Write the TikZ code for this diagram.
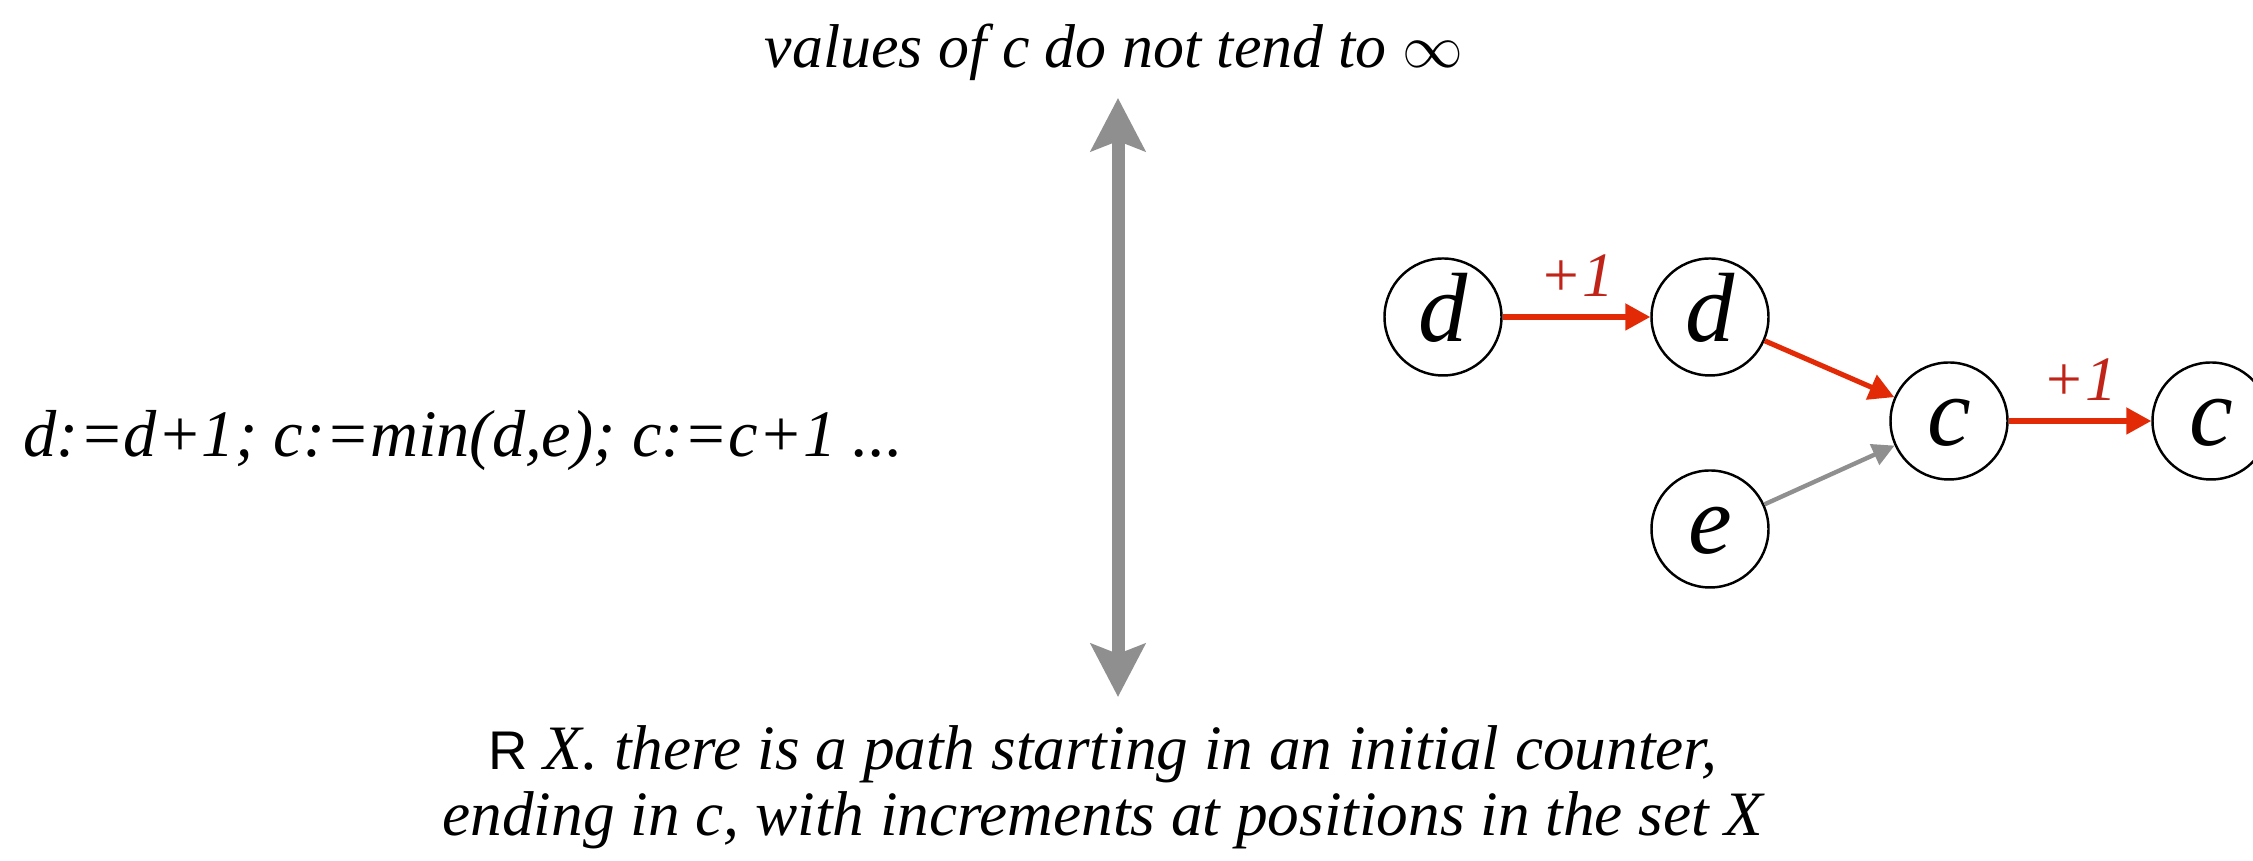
\documentclass[tikz,border=0pt]{standalone}
\usepackage{fontspec}
\setmainfont{Liberation Serif}
\setsansfont{Liberation Sans}
\usetikzlibrary{arrows.meta, positioning, calc}
\definecolor{incred}{HTML}{E32A06}
\definecolor{incredtext}{HTML}{C02418}
\definecolor{flowgrey}{HTML}{8F8F8F}

\begin{document}
\begin{tikzpicture}[every node/.style={inner sep=0pt},
    counter/.style={circle, draw=black, line width=0.7pt, minimum size=1.17cm,
                    text height=5mm, text depth=0pt,
                    font=\fontsize{28}{30}\selectfont\itshape},
    incr/.style={-{Triangle[length=2.5mm, width=2.6mm]}, incred, line width=1.45pt},
    feed/.style={-{Triangle[length=2.2mm, width=2.2mm]}, flowgrey, line width=1.25pt},
    plusone/.style={text=incredtext, font=\fontsize{18}{20}\selectfont\itshape},
    caption/.style={font=\fontsize{17.6}{20}\selectfont\itshape}]
  \useasboundingbox (0,0) rectangle (22.53,8.61);
  \foreach \nm/\lab/\x/\y in {d0/d/14.43/5.44, d1/d/17.10/5.44, c0/c/19.49/4.40,
                              c1/c/22.11/4.40, e0/e/17.10/3.32}{%
    \node[counter] (\nm) at (\x,\y) {\lab};}
  \foreach \a/\b in {d0/d1, c0/c1}{%
    \draw[incr] (\a) -- node[above=1.8mm, plusone] {+1} (\b);}
  \draw[incr] (d1) -- (c0);
  \draw[feed] (e0) -- (c0);
  \node[caption, anchor=base] (limit) at (11.14,7.93) {values of c do not tend to $\infty$};
  \node[caption, font=\fontsize{18.9}{20}\selectfont\itshape, anchor=base west]
    (prog) at (0.23,4.04) {d:=d+1; c:=min(d,e); c:=c+1 ...};
  \node[font=\fontsize{18}{19}\selectfont\itshape, align=center, anchor=base]
    (paths) at (11.03,0.25)
    {{\fontsize{15.5}{18}\selectfont\sffamily\upshape R} X. there is a path starting in an initial counter,\\
     ending in c, with increments at positions in the set X};
  \coordinate (hi) at (11.18,7.63);
  \coordinate (lo) at (11.18,1.64);
  \draw[{Stealth[length=5.3mm, width=5.4mm, inset=1mm]}-{Stealth[length=5.3mm, width=5.4mm, inset=1mm]},
        flowgrey, line width=3.7pt] (hi) -- (lo);
\end{tikzpicture}
\end{document}
